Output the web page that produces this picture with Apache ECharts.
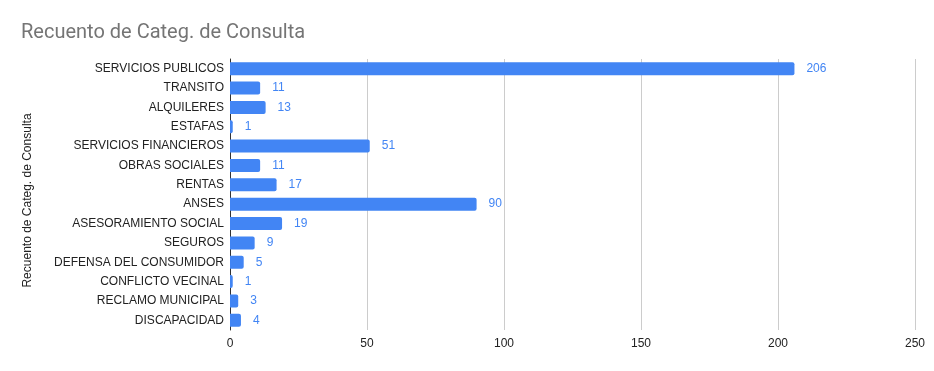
<!DOCTYPE html>
<html><head><meta charset="utf-8">
<script src="https://cdn.jsdelivr.net/npm/echarts@6/dist/echarts.min.js"></script>
<style>html,body{margin:0;padding:0;background:#fff}#c{width:934px;height:371px}</style>
</head><body><div id="c"></div>
<script>
var categories = ["SERVICIOS PUBLICOS","TRANSITO","ALQUILERES","ESTAFAS","SERVICIOS FINANCIEROS","OBRAS SOCIALES","RENTAS","ANSES","ASESORAMIENTO SOCIAL","SEGUROS","DEFENSA DEL CONSUMIDOR","CONFLICTO VECINAL","RECLAMO MUNICIPAL","DISCAPACIDAD"];
var counts = [206,11,13,1,51,11,17,90,19,9,5,1,3,4];
var xTicks = [0,50,100,150,200,250];

var F = '"Liberation Sans", Arial, sans-serif';
var chart = echarts.init(document.getElementById('c'));
chart.setOption({
  animation: false,
  title: {
    text: 'Recuento de Categ. de Consulta',
    left: 16, top: 18,
    textStyle: {fontFamily: 'Roboto', fontSize: 20, fontWeight: 'normal', color: '#757575'}
  },
  grid: {left: 230, right: 19, top: 59, bottom: 41, containLabel: false},
  xAxis: {
    type: 'value', min: xTicks[0], max: xTicks[xTicks.length-1], interval: 50,
    axisLine: {show: false}, axisTick: {show: false},
    splitLine: {lineStyle: {color: '#cccccc', width: 1}},
    axisLabel: {fontFamily: F, fontSize: 12, color: '#222222', margin: 8}
  },
  yAxis: {
    type: 'category', data: categories, inverse: true,
    name: 'Recuento de Categ. de Consulta', nameLocation: 'middle', nameGap: 196,
    nameTextStyle: {fontFamily: F, fontSize: 12, color: '#222222', padding: [0, 12, 0, 0]},
    axisLine: {show: true, lineStyle: {color: '#333333', width: 1}},
    axisTick: {show: false},
    axisLabel: {fontFamily: F, fontSize: 12, color: '#222222', margin: 6}
  },
  series: [{
    type: 'bar', data: counts, barWidth: 13,
    itemStyle: {color: '#4285F4', borderRadius: [0, 2, 2, 0]},
    label: {show: true, position: 'right', distance: 12, fontFamily: F, fontSize: 12, color: '#4285F4'}
  }]
});
</script></body></html>
